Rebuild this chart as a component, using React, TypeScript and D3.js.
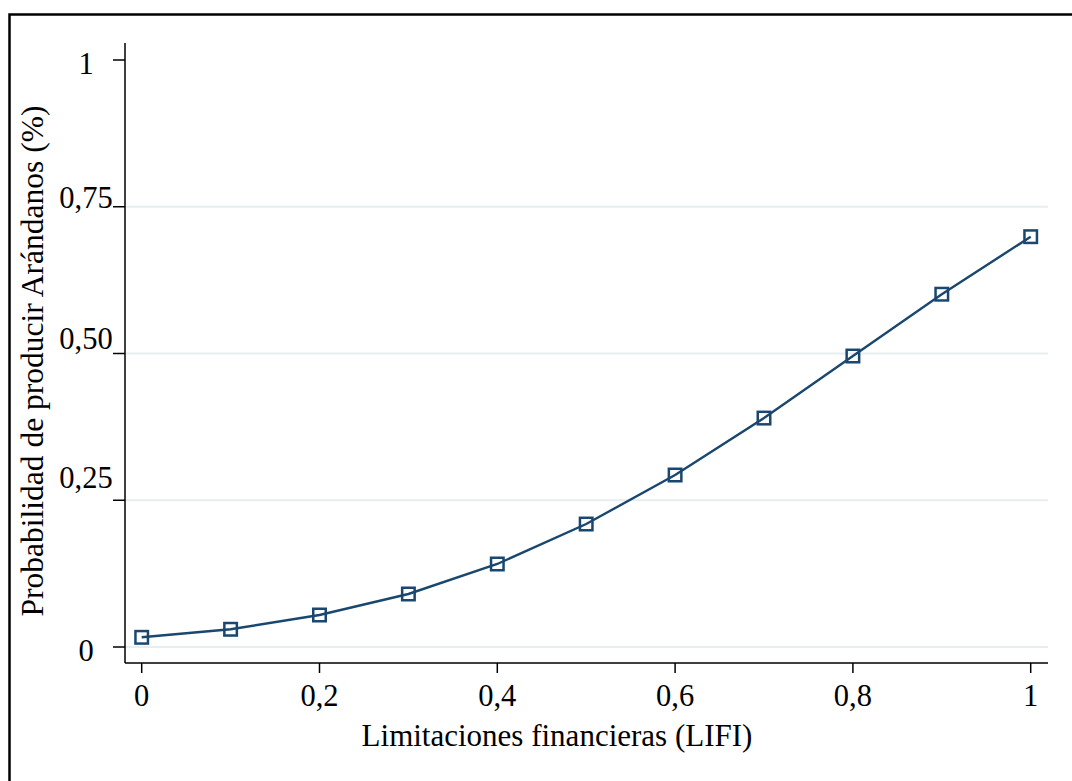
import React from "react";
import * as d3 from "d3";

const xValues = [0, 0.1, 0.2, 0.3, 0.4, 0.5, 0.6, 0.7, 0.8, 0.9, 1.0];
const probValues = [0.0165, 0.0302, 0.0545, 0.0903, 0.1414, 0.2095, 0.293, 0.39, 0.4957, 0.601, 0.699];
const xTicks = [0, 0.2, 0.4, 0.6, 0.8, 1];
const xTickLabels = ["0", "0,2", "0,4", "0,6", "0,8", "1"];
const yTicks = [0, 0.25, 0.5, 0.75, 1];
const yTickLabels = ["0", "0,25", "0,50", "0,75", "1"];
const yLabelDy = [14, -12, -5, 1, 14];
const gridTicks = [0, 0.25, 0.5, 0.75];

const W = 1072;
const H = 781;
const NAVY = "#1a476f";
const FONT = "'Liberation Serif', 'Times New Roman', serif";

export default function App() {
  const x = d3.scaleLinear().domain([0, 1]).range([141.7, 1030.7]);
  const y = d3.scaleLinear().domain([0, 1]).range([647, 60]);
  const pts = xValues.map((v, i) => [v, probValues[i]] as [number, number]);
  const line = d3
    .line<[number, number]>()
    .x((d) => x(d[0]))
    .y((d) => y(d[1]));

  const axisLeft = 125;
  const axisBottom = 663;
  const plotRight = 1048;
  const plotTop = 43;
  const ms = 12.5;

  return (
    <svg
      width={W}
      height={H}
      style={{ position: "absolute", left: 0, top: 0, background: "#fff" }}
      fontFamily={FONT}
    >
      <rect x={0} y={0} width={W} height={H} fill="#fff" />
      <rect x={9.5} y={14.5} width={1080} height={800} fill="none" stroke="#000" strokeWidth={2.5} />
      {gridTicks.map((t) => (
        <line key={t} x1={axisLeft} x2={plotRight} y1={y(t)} y2={y(t)} stroke="#e6eef0" strokeWidth={2} />
      ))}
      <line x1={axisLeft} x2={axisLeft} y1={plotTop} y2={axisBottom} stroke="#000" strokeWidth={1.5} />
      <line x1={axisLeft} x2={plotRight} y1={axisBottom} y2={axisBottom} stroke="#000" strokeWidth={1.5} />
      {yTicks.map((t, i) => (
        <g key={t}>
          <line x1={axisLeft - 12} x2={axisLeft} y1={y(t)} y2={y(t)} stroke="#000" strokeWidth={1.5} />
          <text x={86} y={y(t) + yLabelDy[i]} textAnchor="middle" fontSize={30.5} fill="#000">
            {yTickLabels[i]}
          </text>
        </g>
      ))}
      {xTicks.map((t, i) => (
        <g key={t}>
          <line x1={x(t)} x2={x(t)} y1={axisBottom} y2={axisBottom + 10} stroke="#000" strokeWidth={1.5} />
          <text x={x(t)} y={706} textAnchor="middle" fontSize={30.5} fill="#000">
            {xTickLabels[i]}
          </text>
        </g>
      ))}
      <path d={line(pts) || ""} fill="none" stroke={NAVY} strokeWidth={2.4} />
      {pts.map((p, i) => (
        <rect
          key={i}
          x={x(p[0]) - ms / 2}
          y={y(p[1]) - ms / 2}
          width={ms}
          height={ms}
          fill="none"
          stroke={NAVY}
          strokeWidth={2.5}
        />
      ))}
      <text x={557} y={746} textAnchor="middle" fontSize={31} fill="#000">
        Limitaciones financieras (LIFI)
      </text>
      <text
        transform={`translate(43, 361) rotate(-90)`}
        textAnchor="middle"
        fontSize={31.5}
        fill="#000"
      >
        Probabilidad de producir Arándanos (%)
      </text>
    </svg>
  );
}
